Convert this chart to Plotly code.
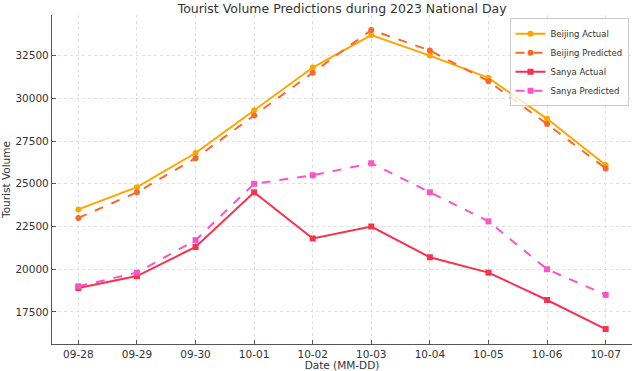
import plotly.graph_objects as go

dates = ["09-28", "09-29", "09-30", "10-01", "10-02", "10-03", "10-04", "10-05", "10-06", "10-07"]
beijing_actual = [23500, 24800, 26800, 29300, 31800, 33700, 32500, 31200, 28800, 26100]
beijing_pred = [23000, 24500, 26500, 29000, 31500, 34000, 32800, 31000, 28500, 25900]
sanya_actual = [18900, 19600, 21300, 24500, 21800, 22500, 20700, 19800, 18200, 16500]
sanya_pred = [19000, 19800, 21700, 25000, 25500, 26200, 24500, 22800, 20000, 18500]
y_ticks = [17500, 20000, 22500, 25000, 27500, 30000, 32500]

x = list(range(len(dates)))
font = "DejaVu Sans"

fig = go.Figure()
series = [
    ("Beijing Actual", beijing_actual, "#FFA500", "solid", "circle"),
    ("Beijing Predicted", beijing_pred, "#F8692A", "dash", "circle"),
    ("Sanya Actual", sanya_actual, "#F8314F", "solid", "square"),
    ("Sanya Predicted", sanya_pred, "#FA55C6", "dash", "square"),
]
for name, vals, col, dash, sym in series:
    fig.add_trace(go.Scatter(
        x=x, y=vals, name=name, mode="lines+markers",
        line=dict(color=col, width=2, dash=dash),
        marker=dict(color=col, size=6, symbol=sym),
    ))

fig.update_layout(
    width=633, height=371,
    margin=dict(l=52, r=1, t=15, b=27),
    paper_bgcolor="white", plot_bgcolor="white",
    font=dict(family=font, size=10.5, color="#333"),
    title=dict(text="Tourist Volume Predictions during 2023 National Day",
               x=0.5405, xanchor="center", y=0.978, yanchor="middle",
               font=dict(size=12.5, color="#333")),
    legend=dict(x=0.994, xanchor="right", y=0.99, yanchor="top",
                bgcolor="rgba(255,255,255,0.8)", bordercolor="#ccc", borderwidth=1,
                font=dict(size=8.5, color="#333"), tracegroupgap=0,
                itemwidth=30),
    showlegend=True,
)
fig.update_xaxes(
    range=[-0.45, 9.45], tickmode="array", tickvals=x, ticktext=dates,
    showgrid=True, gridcolor="#e0e0e0", griddash="dot", gridwidth=1,
    showline=True, linecolor="#555", linewidth=1.2,
    ticks="inside", ticklen=4, tickcolor="#555",
    title=dict(text="Date (MM-DD)", standoff=1, font=dict(size=10.5)),
    zeroline=False,
)
fig.update_yaxes(
    range=[15625, 34875], tickmode="array", tickvals=y_ticks,
    ticktext=[str(v) for v in y_ticks],
    showgrid=True, gridcolor="#e0e0e0", griddash="dot", gridwidth=1,
    showline=True, linecolor="#555", linewidth=1.2,
    ticks="inside", ticklen=4, tickcolor="#555",
    title=dict(text="Tourist Volume", standoff=3, font=dict(size=10.5)),
    zeroline=False,
)
fig.write_html("out.html")
